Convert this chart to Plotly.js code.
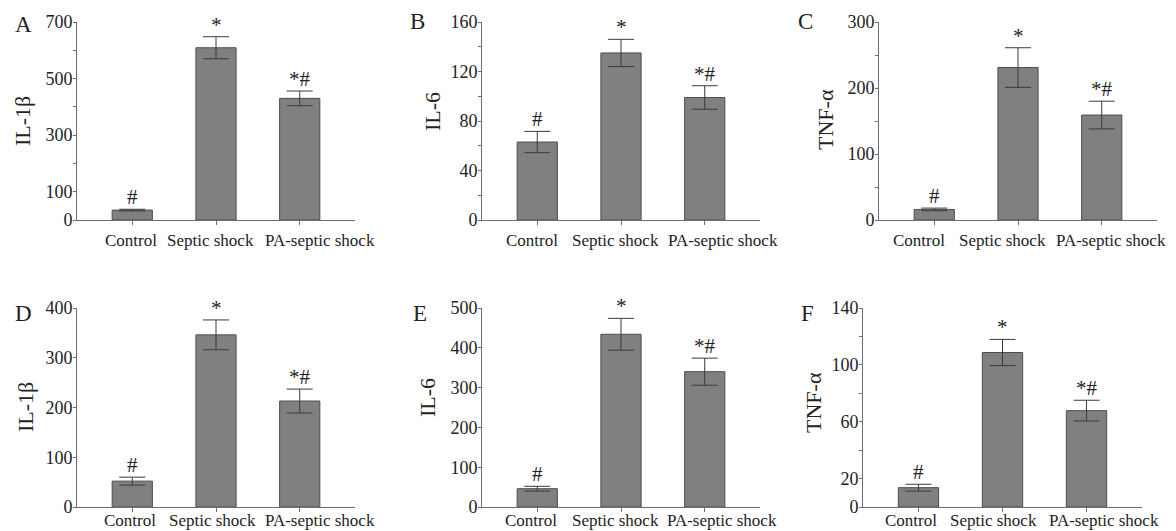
<!DOCTYPE html>
<html>
<head>
<meta charset="utf-8">
<script src="https://cdn.plot.ly/plotly-3.0.1.min.js"></script>
<style>html,body{margin:0;padding:0;background:#fff}#chart{width:1176px;height:531px}</style>
</head>
<body>
<div id="chart"></div>
<script>
const categories = ['Control', 'Septic shock', 'PA-septic shock'];
const marks = ['#', '*', '*#'];

const il1bA = [35, 609, 430];
const errA = [3, 39, 26];
const il6B = [63, 135, 99];
const errB = [8.6, 11, 9.5];
const tnfC = [16, 231, 159];
const errC = [2, 30, 21];
const il1bD = [52, 346, 213];
const errD = [8, 30, 24];
const il6E = [46, 434, 340];
const errE = [6, 40, 34];
const tnfF = [13.6, 108.7, 67.8];
const errF = [2.4, 9.2, 7.3];

const panelLetters = ['A', 'B', 'C', 'D', 'E', 'F'];
const yTitles = ['IL-1β', 'IL-6', 'TNF-α', 'IL-1β', 'IL-6', 'TNF-α'];
const yMax = [700, 160, 300, 400, 500, 140];
const tickA = [0, 100, 200, 300, 400, 500, 600, 700];
const labelA = ['0', '100', '', '300', '', '500', '', '700'];
const tickB = [0, 20, 40, 60, 80, 100, 120, 140, 160];
const labelB = ['0', '', '40', '', '80', '', '120', '', '160'];
const tickC = [0, 50, 100, 150, 200, 250, 300];
const labelC = ['0', '', '100', '', '200', '', '300'];
const tickD = [0, 100, 200, 300, 400];
const labelD = ['0', '100', '200', '300', '400'];
const tickE = [0, 100, 200, 300, 400, 500];
const labelE = ['0', '100', '200', '300', '400', '500'];
const tickF = [0, 20, 40, 60, 80, 100, 120, 140];
const labelF = ['0', '20', '', '60', '', '100', '', '140'];

const values = [il1bA, il6B, tnfC, il1bD, il6E, tnfF];
const errors = [errA, errB, errC, errD, errE, errF];
const tickVals = [tickA, tickB, tickC, tickD, tickE, tickF];
const tickTexts = [labelA, labelB, labelC, labelD, labelE, labelF];

// layout geometry (pixels)
const W = 1176, H = 531;
const xDom = [[77, 355], [482, 760], [879, 1157], [77, 355], [482, 760], [863, 1142]];
const yDom = [[22, 220], [22, 220], [22, 220], [308, 507], [308, 507], [308, 507]];
const titleShift = [-54, -49, -54, -52, -55, -50];
const titleY = [121, 112, 120, 407, 398, 403];
const letterPos = [[23, 24], [417, 22], [805, 22], [23, 313], [420, 313], [807, 313]];
// horizontal shift (px) of each category label from its bar centre, and its vertical offset below the axis
const catShift = [[-1, -6, 20], [-5, -6, 18], [-15, -16, 9], [-2, -4, 20], [-6, -6, 17], [-7, -9, 17]];
const catDrop = [20, 20, 20, 13, 13, 13];

const FONT = 'Liberation Serif, Times New Roman, serif';
const AX = '#6e6e6e';
const traces = [];
const layout = {
  width: W, height: H,
  margin: {l: 0, r: 0, t: 0, b: 0},
  paper_bgcolor: '#ffffff', plot_bgcolor: '#ffffff',
  showlegend: false,
  font: {family: FONT, color: '#222'},
  annotations: []
};

for (let i = 0; i < 6; i++) {
  const n = i === 0 ? '' : String(i + 1);
  const xa = 'x' + n, ya = 'y' + n;
  traces.push({
    type: 'bar', x: categories, y: values[i], xaxis: xa, yaxis: ya,
    width: 0.48,
    marker: {color: '#808080', line: {color: '#4d4d4d', width: 1}},
    error_y: {type: 'data', array: errors[i], visible: true, color: '#3a3a3a', thickness: 1, width: 13},
    hoverinfo: 'x+y'
  });
  layout['xaxis' + n] = {
    domain: [xDom[i][0] / W, xDom[i][1] / W], anchor: ya,
    range: [-0.66, 2.66], type: 'category',
    showline: true, linecolor: AX, linewidth: 1,
    ticks: 'outside', ticklen: 4, tickcolor: AX,
    showticklabels: false,
    showgrid: false, zeroline: false
  };
  layout['yaxis' + n] = {
    domain: [1 - yDom[i][1] / H, 1 - yDom[i][0] / H], anchor: xa,
    range: [0, yMax[i]],
    tickmode: 'array', tickvals: tickVals[i], ticktext: tickTexts[i],
    showline: true, linecolor: AX, linewidth: 1,
    ticks: 'outside', ticklen: 3, tickcolor: AX,
    ticklabelstandoff: -3,
    showgrid: false, zeroline: false,
    tickfont: {family: FONT, size: 18, color: '#222'}
  };
  for (let k = 0; k < categories.length; k++) {
    // significance marks above the error bars
    layout.annotations.push({
      xref: xa, yref: ya, x: categories[k], y: values[i][k] + errors[i][k],
      text: marks[k], showarrow: false, yanchor: 'bottom', yshift: -2,
      font: {family: FONT, size: 21, color: '#222'}
    });
    // category labels
    layout.annotations.push({
      xref: xa, yref: ya + ' domain', x: categories[k], y: 0,
      text: categories[k], showarrow: false,
      xanchor: 'center', yanchor: 'middle',
      xshift: catShift[i][k], yshift: -catDrop[i],
      font: {family: FONT, size: 17, color: '#222'}
    });
  }
  // y-axis title
  layout.annotations.push({
    xref: 'paper', yref: 'paper',
    x: (xDom[i][0] + titleShift[i]) / W, y: 1 - titleY[i] / H,
    text: yTitles[i], textangle: -90, showarrow: false,
    xanchor: 'center', yanchor: 'middle',
    font: {family: FONT, size: 22, color: '#222'}
  });
  // panel letter
  layout.annotations.push({
    xref: 'paper', yref: 'paper',
    x: letterPos[i][0] / W, y: 1 - letterPos[i][1] / H,
    text: panelLetters[i], showarrow: false,
    xanchor: 'center', yanchor: 'middle',
    font: {family: FONT, size: 23, color: '#222'}
  });
}

Plotly.newPlot('chart', traces, layout, {staticPlot: true});
</script>
</body>
</html>
